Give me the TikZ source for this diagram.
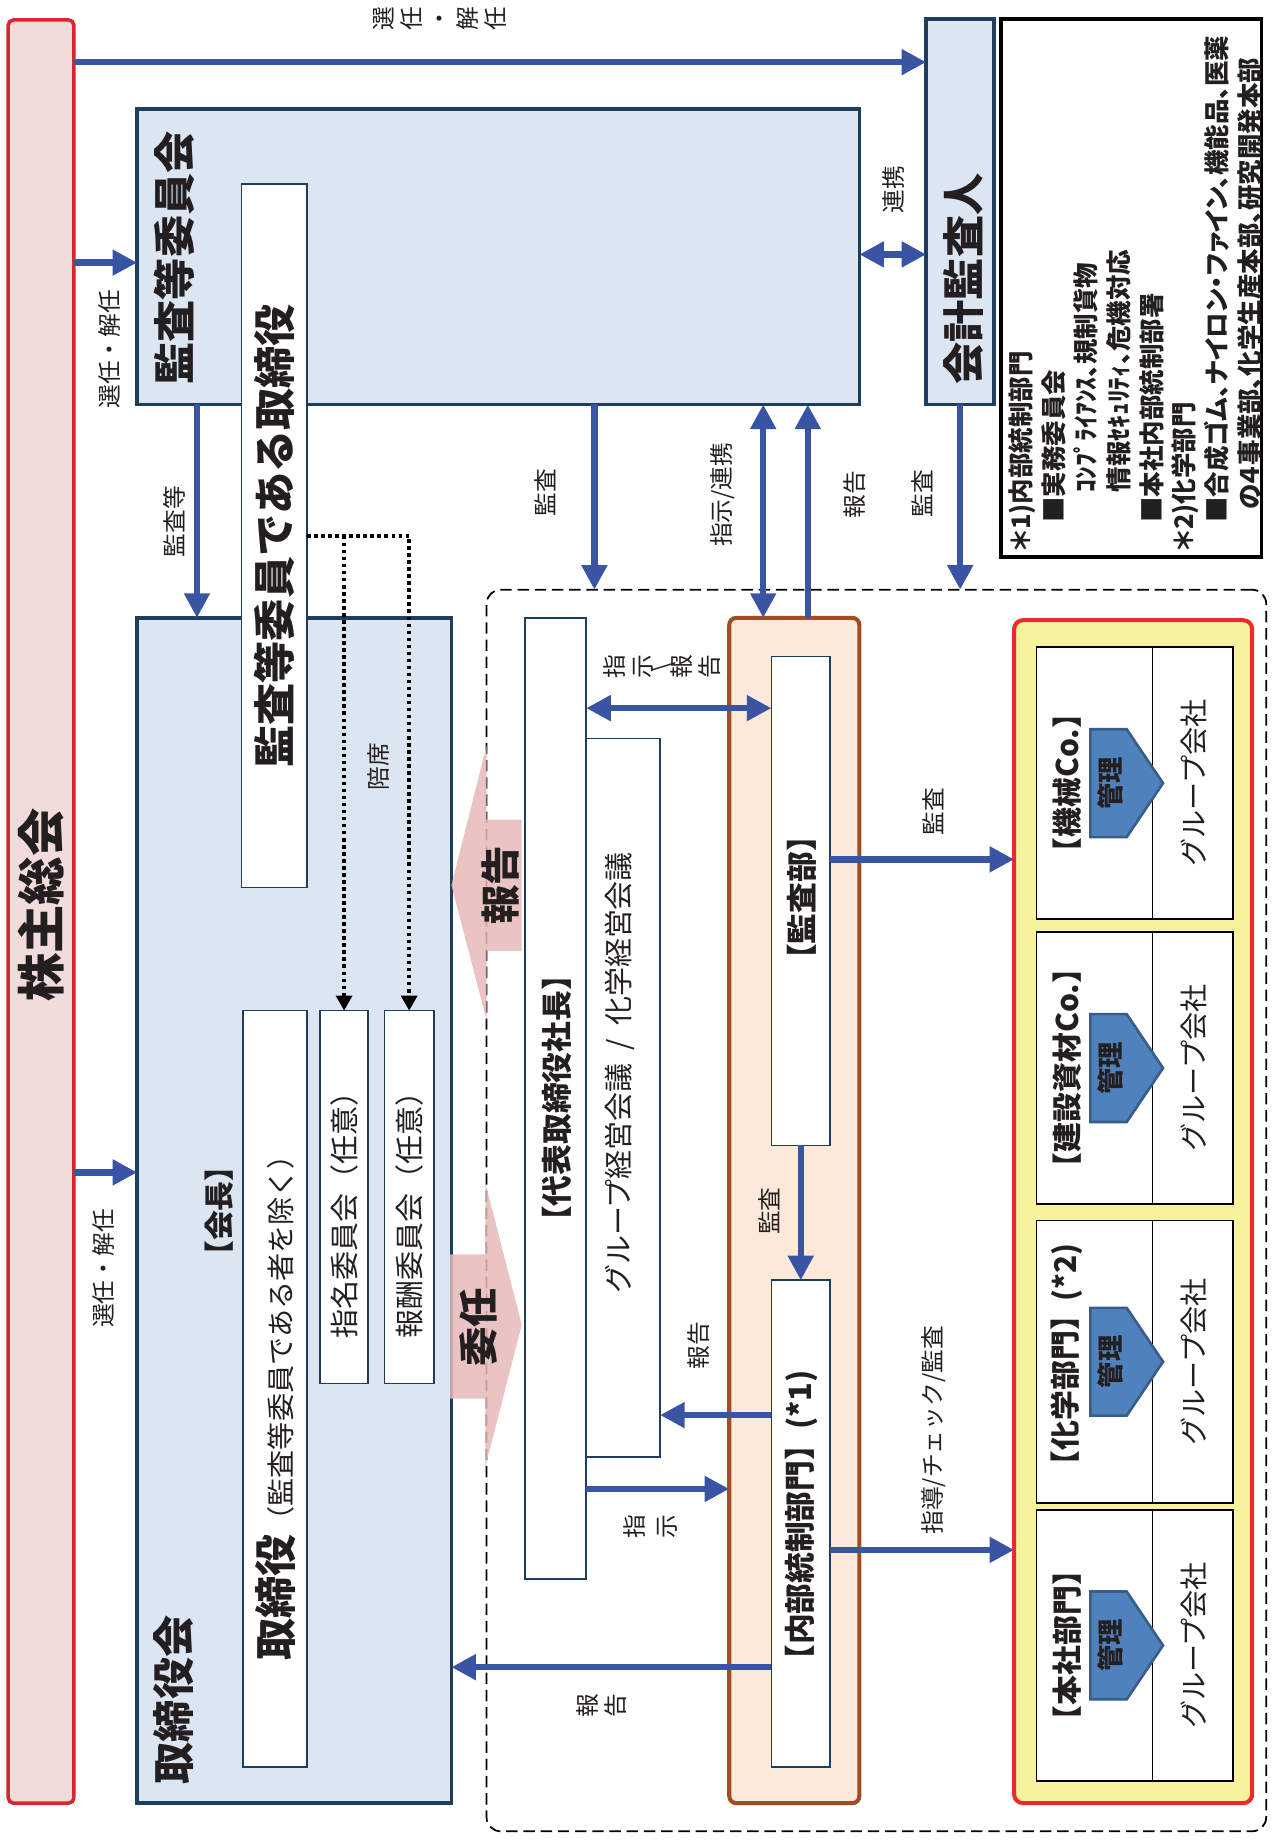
\documentclass[tikz,border=0pt]{standalone}
\usepackage{fontspec}
\setmainfont{Noto Sans CJK JP}
\newfontfamily\notefont{Noto Sans CJK JP}[CharacterWidth=AlternateProportional]
\usetikzlibrary{arrows.meta}
\usetikzlibrary{fit}
\definecolor{ablue}{HTML}{3A54A4}
\definecolor{navy}{HTML}{1F3D5C}
\definecolor{lblue}{HTML}{DCE6F2}
\definecolor{kred}{HTML}{D7262D}
\definecolor{kpink}{HTML}{F2DCDB}
\definecolor{obrown}{HTML}{A04D24}
\definecolor{peach}{HTML}{FDE9D9}
\definecolor{gyellow}{HTML}{F7F29C}
\definecolor{gred}{HTML}{EE2A2E}
\definecolor{bpink}{HTML}{E6B9B8}
\definecolor{kblue}{HTML}{4F81BD}
\definecolor{kblued}{HTML}{385D8A}
\definecolor{ink}{HTML}{231F20}
\newcommand\fsz[2]{\fontsize{#1}{#2}\selectfont}
\tikzset{
  box/.style={rectangle, inner sep=0pt, outer sep=0pt},
  bluebox/.style={box, draw=navy, line width=2pt, fill=lblue},
  whitebox/.style={box, draw=navy, line width=1pt, fill=white},
  cellbox/.style={box, draw=black, line width=1pt, fill=white},
  rot/.style={rotate=90, inner sep=0pt, text=ink},
  lab/.style={rot, font=\fsz{13.5}{16}},
  vlab/.style={lab, align=center},
  arr/.style={draw=ablue, line width=3.6pt, -{Triangle[length=14pt,width=14pt]}},
  darr/.style={draw=ablue, line width=3.6pt, {Triangle[length=14pt,width=14pt]}-{Triangle[length=14pt,width=14pt]}},
  dotarr/.style={draw=black, line width=2pt, dash pattern=on 2pt off 2pt, -{Triangle[length=8.5pt,width=9pt]}},
  bigarrow/.style={fill=bpink, fill opacity=.85},
  kanri/.pic={
    \draw[draw=kblued, fill=kblue, line width=1.5pt] (-15,-46) -- (16,-46) -- (47,0) -- (16,46) -- (-15,46) -- cycle;
    \node[rot, font=\bfseries\fsz{15}{18}] (-t) at (2,0) {管理};
  }
}
\begin{document}
\begin{tikzpicture}[x=0.023447cm, y=-0.023447cm]
  \useasboundingbox (0,0) rectangle (1085,1572);

  % operating side
  \node[box, draw=black, line width=1pt, dash pattern=on 6.5pt off 3.3pt, rounded corners=8pt, fit={(415,503) (1080,1562)}] (waku) {};

  % boxes
  \node[box, draw=kred, line width=2pt, fill=kpink, rounded corners=3pt, fit={(7,17) (63,1538)}] (kabunushi) {};
  \node[bluebox, fit={(117,93) (733,345)}] (kansaiinkai) {};
  \node[bluebox, fit={(117,527) (385,1538)}] (torishimari) {};
  \node[bluebox, fit={(790,16) (848,345)}] (kaikei) {};
  \node[box, draw=black, line width=2pt, fill=white, fit={(854,16) (1076,475)}] (legend) {};
  \node[whitebox, fit={(206,157) (262,757)}] (kansatori) {};
  \node[whitebox, fit={(207,862) (262,1507)}] (tori) {};
  \node[whitebox, fit={(273,862) (314,1180)}] (shimei) {};
  \node[whitebox, fit={(328,862) (370,1180)}] (hoshu) {};

  \node[box, draw=obrown, line width=2.3pt, fill=peach, rounded corners=4pt, fit={(622,527) (733,1538)}] (naibu) {};
  \node[whitebox, fit={(658,560) (708,977)}] (kansabu) {};
  \node[whitebox, fit={(658,1092) (708,1507)}] (naibutosei) {};
  \node[whitebox, fit={(500,630) (563,1243)}] (keiei) {};
  \node[whitebox, fit={(448,527) (500,1347)}] (shacho) {};

  % group companies
  \node[box, draw=gred, line width=2.3pt, fill=gyellow, rounded corners=5pt, fit={(865,529) (1068,1538)}] (group) {};
  \foreach \n/\ya/\yb/\txt in {1/552/784/{【機械Co.】}, 2/795/1027/{【建設資材Co.】}, 3/1041/1282/{【化学部門】(*2)}, 4/1288/1519/{【本社部門】}}{
    \node[cellbox, fit={(884,\ya) (983,\yb)}] (cl\n) {};
    \node[cellbox, fit={(983,\ya) (1052,\yb)}] (cr\n) {};
    \node[rot, font=\bfseries\fsz{17}{20}] (cl\n-t) at (910,{(\ya+\yb)/2}) {\txt};
    \node[rot, font=\fsz{16}{20}] (cr\n-t) at (1018,{(\ya+\yb)/2}) {グループ会社};
    \pic (kanri\n) at (945,{(\ya+\yb)/2}) {kanri};
  }

  % big arrows
  \fill[bigarrow] (385,755) -- (415,636) -- (415,699) -- (445,699) -- (445,811) -- (415,811) -- (415,870) -- cycle;
  \fill[bigarrow] (445,1130) -- (414,1009) -- (414,1070) -- (384,1070) -- (384,1193) -- (414,1193) -- (414,1251) -- cycle;
  \node[rot, font=\bfseries\fsz{22.5}{26}] (hokoku-t) at (427,755) {報告};
  \node[rot, font=\bfseries\fsz{22.5}{26}] (inin-t) at (408,1132) {委任};

  % texts
  \node[rot, font=\bfseries\fsz{27.5}{30}] (kabunushi-t) at (35,772) {株主総会};
  \node[rot, font=\bfseries\fsz{24}{28}] (kansaiinkai-t) at (149,220) {監査等委員会};
  \node[rot, font=\bfseries\fsz{24}{28}] (kansatori-t) at (234,457) {監査等委員である取締役};
  \node[rot, font=\bfseries\fsz{24}{28}] (torishimari-t) at (148,1450) {取締役会};
  \node[rot, font=\bfseries\fsz{17}{20}] (kaicho-t) at (187,1033) {【会長】};
  \node[rot] (tori-t) at (235,1195) {{\bfseries\fsz{24}{28}取締役}{\fsz{16}{20}（監査等委員である者を除く）}};
  \node[rot, font=\fsz{16.5}{20}] (shimei-t) at (294,1030) {指名委員会（任意）};
  \node[rot, font=\fsz{16.5}{20}] (hoshu-t) at (349,1030) {報酬委員会（任意）};
  \node[rot, font=\bfseries\fsz{24}{28}] (kaikei-t) at (822,238) {会計監査人};
  \node[rot, font=\bfseries\fsz{17.5}{20}] (shacho-t) at (475,937) {【代表取締役社長】};
  \node[rot, font=\fsz{16.5}{20}] (keiei-t) at (529,915) {グループ経営会議\ \ /\ \ 化学経営会議};
  \node[rot, font=\bfseries\fsz{17.5}{20}] (kansabu-t) at (684,766) {【監査部】};
  \node[rot, font=\bfseries\fsz{17.5}{20}] (naibutosei-t) at (684,1299) {【内部統制部門】(*1)};
  \node[rot, anchor=north west, align=left, font=\notefont\bfseries\fsz{14.5}{18.6}] (legend-t) at (860,470)
    {＊1)内部統制部門\\
     \hspace*{1.1em}■実務委員会\\
     \hspace*{2.3em}ｺﾝﾌﾟﾗｲｱﾝｽ、規制貨物\\
     \hspace*{2.3em}情報ｾｷｭﾘﾃｨ、危機対応\\
     \hspace*{1.1em}■本社内部統制部署\\
     ＊2)化学部門\\
     \hspace*{1.1em}■合成ゴム、ナイロン・ファイン、機能品、医薬\\
     \hspace*{1.6em}の４事業部、化学生産本部、研究開発本部};

  % labels
  \node[vlab] (l-sen0) at (375,16) {選\\任\\・\\解\\任};
  \node[lab] (l-sen1) at (93,298) {選任・解任};
  \node[lab] (l-sen2) at (88,1082) {選任・解任};
  \node[lab] (l-kansato) at (149,445) {監査等};
  \node[lab] (l-baiseki) at (323,654) {陪席};
  \node[lab] (l-kansa1) at (465,420) {監査};
  \node[lab] (l-shiji1) at (616,422) {指示/連携};
  \node[lab] (l-hokoku1) at (729,422) {報告};
  \node[lab] (l-kansa2) at (787,421) {監査};
  \node[lab] (l-renkei) at (762,162) {連携};
  \node[vlab] (l-shiji2) at (565,569) {指\\示\\[-5pt]\textbackslash\\[-5pt]報\\告};
  \node[lab] (l-kansa3) at (656,1033) {監査};
  \node[lab] (l-hokoku2) at (596,1148) {報告};
  \node[vlab, font=\fsz{13.5}{18}] (l-shiji3) at (555,1302) {指\\示};
  \node[vlab] (l-hokoku3) at (513,1455) {報\\告};
  \node[lab] (l-kansa4) at (796,692) {監査};
  \node[lab] (l-shido) at (796,1220) {指導/チェック/監査};

  % connectors
  \coordinate (r53) at (0,53);
  \coordinate (r217) at (0,217);
  \coordinate (r224) at (0,224);
  \coordinate (r457) at (0,457);
  \coordinate (r604) at (0,604);
  \coordinate (r733) at (0,733);
  \coordinate (r1000) at (0,1000);
  \coordinate (r1207) at (0,1207);
  \coordinate (r1270) at (0,1270);
  \coordinate (r1322) at (0,1322);
  \coordinate (r1422) at (0,1422);
  \coordinate (c168) at (168,0);
  \coordinate (c507) at (507,0);
  \coordinate (c651) at (651,0);
  \coordinate (c689) at (689,0);

  \draw[dotarr] (kansatori.east |- r457) -| (hoshu.north);
  \draw[dotarr] (shimei.north |- r457) -- (shimei.north);

  \draw[arr] (kabunushi.east |- r53) -- (kaikei.west |- r53);
  \draw[arr] (kabunushi.east |- r224) -- (kansaiinkai.west |- r224);
  \draw[arr] (kabunushi.east |- r1000) -- (torishimari.west |- r1000);
  \draw[arr] (kansaiinkai.south -| c168) -- (torishimari.north -| c168);
  \draw[arr] (kansaiinkai.south -| c507) -- (waku.north -| c507);
  \draw[darr] (naibu.north -| c651) -- (kansaiinkai.south -| c651);
  \draw[arr] (naibu.north -| c689) -- (kansaiinkai.south -| c689);
  \draw[arr] (kaikei.south) -- (waku.north -| kaikei.south);
  \draw[darr] (kansaiinkai.east |- r217) -- (kaikei.west |- r217);
  \draw[darr] (shacho.east |- r604) -- (kansabu.west |- r604);
  \draw[arr] (kansabu.south) -- (naibutosei.north);
  \draw[arr] (naibutosei.west |- r1207) -- (keiei.east |- r1207);
  \draw[arr] (shacho.east |- r1270) -- (naibu.west |- r1270);
  \draw[arr] (naibutosei.west |- r1422) -- (torishimari.east |- r1422);
  \draw[arr] (kansabu.east |- r733) -- (group.west |- r733);
  \draw[arr] (naibutosei.east |- r1322) -- (group.west |- r1322);
\end{tikzpicture}
\end{document}
